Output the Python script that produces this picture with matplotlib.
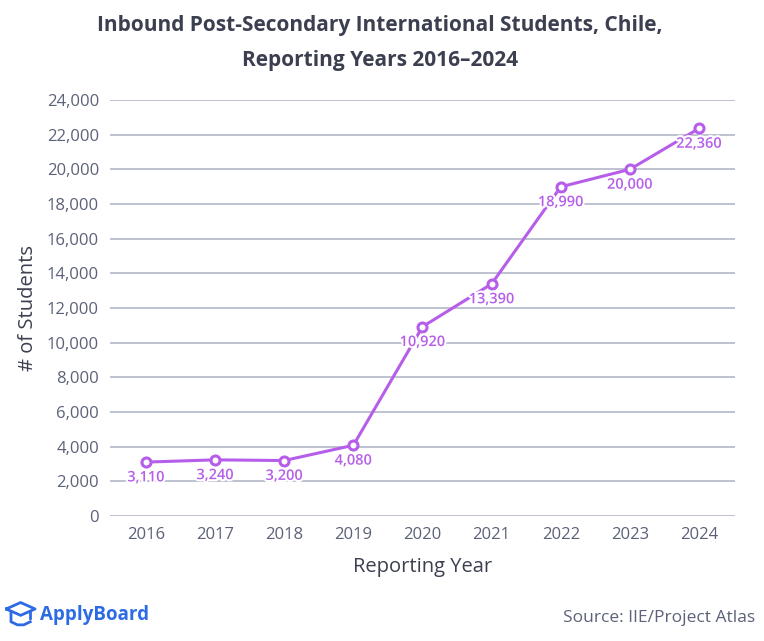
import matplotlib.pyplot as plt
import matplotlib.patheffects as pe
import numpy as np

years = ['2016', '2017', '2018', '2019', '2020', '2021', '2022', '2023', '2024']
students = [3110, 3240, 3200, 4080, 10920, 13390, 18990, 20000, 22360]
yticks = list(range(0, 24001, 2000))

LINE = '#b65ee9'
GRID = '#b9bccb'
TXT = '#5b6178'
TITLE = '#3b3f4f'
BRAND = '#2d6be5'

plt.rcParams['font.family'] = ['Open Sans', 'DejaVu Sans']

fig = plt.figure(figsize=(7.64, 6.41), dpi=100)
ax = fig.add_axes([0.144, 0.195, 0.818, 0.649])

x = np.arange(len(years))
ax.plot(x, students, color=LINE, lw=2.2, marker='o', ms=6.5,
        mfc='white', mec=LINE, mew=2.2, zorder=3)

for xi, v in zip(x, students):
    ax.annotate('{:,}'.format(v), (xi, v), xytext=(0, -6),
                textcoords='offset points', ha='center', va='top',
                color=LINE, fontsize=10.5, fontweight='semibold', zorder=4,
                path_effects=[pe.withStroke(linewidth=3, foreground='white')])

ax.set_xlim(-0.52, len(years) - 0.48)
ax.set_ylim(0, 24000)
ax.set_xticks(x)
ax.set_xticklabels(years)
ax.set_yticks(yticks)
ax.set_yticklabels(['{:,}'.format(t) for t in yticks])
ax.tick_params(length=0, labelsize=12, labelcolor=TXT, pad=8)
ax.grid(axis='y', color=GRID, lw=1.3)
ax.set_axisbelow(True)
for s in ax.spines.values():
    s.set_visible(False)

ax.set_xlabel('Reporting Year', fontsize=14.5, color=TITLE, labelpad=10)
ax.set_ylabel('# of Students', fontsize=14.5, color=TITLE, labelpad=6)

fig.text(0.497, 0.960, 'Inbound Post-Secondary International Students, Chile,',
         ha='center', va='center', fontsize=15, fontweight='bold', color=TITLE)
fig.text(0.497, 0.906, 'Reporting Years 2016\u20132024',
         ha='center', va='center', fontsize=15, fontweight='bold', color=TITLE)

# little cap icon next to the brand name
logo = fig.add_axes([0.006, 0.022, 0.042, 0.04])
logo.axis('off')
logo.set_xlim(0, 10)
logo.set_ylim(0, 10)
logo.plot([0.5, 5, 9.5, 5, 0.5], [7, 9.5, 7, 4.5, 7], color=BRAND, lw=2)
logo.plot([2, 2, 4, 6, 8], [5.8, 2, 0.8, 0.8, 2], color=BRAND, lw=2)
logo.plot([8, 8], [5.8, 3.5], color=BRAND, lw=2)

fig.text(0.052, 0.041, 'ApplyBoard', ha='left', va='center', fontsize=13.5,
         fontweight='bold', color=BRAND)
fig.text(0.988, 0.036, 'Source: IIE/Project Atlas', ha='right', va='center',
         fontsize=12.5, color=TXT)

fig.savefig('out.png', dpi=100)
